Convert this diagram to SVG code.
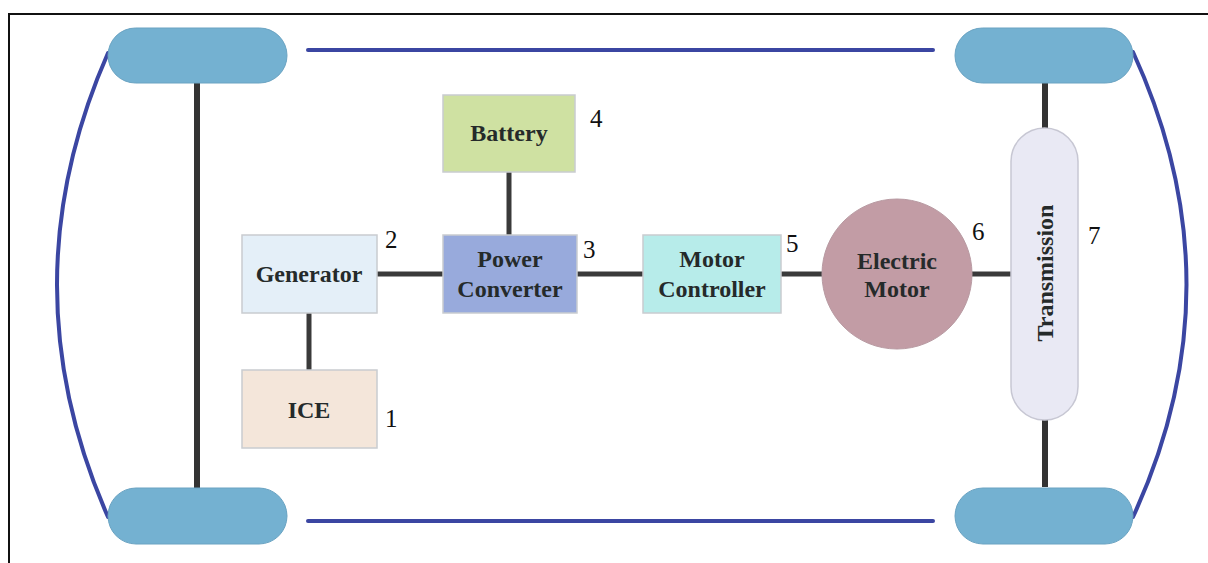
<svg xmlns="http://www.w3.org/2000/svg" width="1208" height="563" viewBox="0 0 1208 563">
<style>
.wheel{fill:#74b1d1;stroke:#6aa3c2;stroke-width:1}
.box{stroke:#c9ccd0;stroke-width:1.5}
.axle{stroke:#333;stroke-width:6;fill:none}
.link{stroke:#3a3a3a;stroke-width:5;fill:none}
.body{stroke:#3b46a2;stroke-width:4;fill:none;stroke-linecap:round}
.lbl{font-family:"Liberation Serif",serif;font-weight:bold;font-size:24px;fill:#252a2a;text-anchor:middle}
.num{font-family:"Liberation Serif",serif;font-size:25px;fill:#111}
</style>
<rect width="1208" height="563" fill="#fff"/>
<path d="M9,563 V14 H1208" fill="none" stroke="#111" stroke-width="2"/>
<g id="connectors">
<line class="axle" x1="197" y1="83" x2="197" y2="490"/>
<line class="axle" x1="1045" y1="83" x2="1045" y2="128"/>
<line class="axle" x1="1045" y1="420" x2="1045" y2="487"/>
<line class="body" x1="308" y1="50" x2="933" y2="50"/>
<line class="body" x1="308" y1="521" x2="933" y2="521"/>
<path class="body" d="M108,53 Q6,285 108,517"/>
<path class="body" d="M1133,52 Q1240,285 1133,517"/>
<line class="link" x1="309" y1="313" x2="309" y2="370"/>
<line class="link" x1="377" y1="274" x2="443" y2="274"/>
<line class="link" x1="509" y1="172" x2="509" y2="235"/>
<line class="link" x1="577" y1="274" x2="643" y2="274"/>
<line class="link" x1="781" y1="274" x2="822" y2="274"/>
<line class="link" x1="972" y1="274" x2="1011" y2="274"/>
</g>
<g id="wheel-tl"><rect class="wheel" x="108" y="28" width="179" height="55" rx="27.5"/></g>
<g id="wheel-bl"><rect class="wheel" x="108" y="488" width="179" height="56" rx="28"/></g>
<g id="wheel-tr"><rect class="wheel" x="955" y="28" width="178" height="55" rx="27.5"/></g>
<g id="wheel-br"><rect class="wheel" x="955" y="488" width="178" height="56" rx="28"/></g>
<g id="ice">
<rect class="box" x="242" y="370" width="135" height="78" fill="#f4e6da"/>
<text class="lbl" x="309" y="418">ICE</text>
<text class="num" x="385" y="427">1</text>
</g>
<g id="generator">
<rect class="box" x="242" y="235" width="135" height="78" fill="#e4eff8"/>
<text class="lbl" x="309" y="282">Generator</text>
<text class="num" x="385" y="248">2</text>
</g>
<g id="power-converter">
<rect class="box" x="443" y="235" width="134" height="78" fill="#98aadc"/>
<text class="lbl" x="510" y="267">Power</text>
<text class="lbl" x="510" y="297">Converter</text>
<text class="num" x="583" y="258">3</text>
</g>
<g id="battery">
<rect class="box" x="443" y="95" width="132" height="77" fill="#cfe1a2"/>
<text class="lbl" x="509" y="141">Battery</text>
<text class="num" x="590" y="127">4</text>
</g>
<g id="motor-controller">
<rect class="box" x="643" y="235" width="138" height="78" fill="#b7ecea"/>
<text class="lbl" x="712" y="267">Motor</text>
<text class="lbl" x="712" y="297">Controller</text>
<text class="num" x="786" y="252">5</text>
</g>
<g id="electric-motor">
<circle cx="897" cy="274" r="75" fill="#c29ca5" stroke="#b89aa2" stroke-width="1"/>
<text class="lbl" x="897" y="269">Electric</text>
<text class="lbl" x="897" y="297">Motor</text>
<text class="num" x="972" y="240">6</text>
</g>
<g id="transmission">
<rect x="1011" y="128" width="67" height="292" rx="33.5" fill="#e9e9f4" stroke="#c7c7d3" stroke-width="1.5"/>
<text class="lbl" transform="translate(1053,273) rotate(-90)">Transmission</text>
<text class="num" x="1088" y="244">7</text>
</g>
</svg>
